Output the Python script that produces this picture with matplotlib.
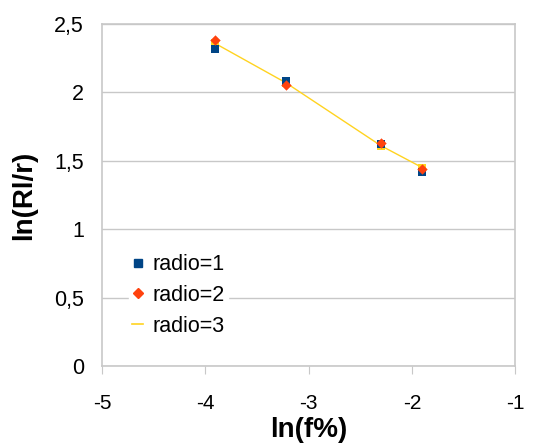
import matplotlib
matplotlib.use("Agg")
import matplotlib.pyplot as plt
import matplotlib.lines as mlines

# ln(f%) for f = 2, 4, 10, 15 %
x_vals = [-3.91, -3.22, -2.30, -1.90]
radio1 = [2.32, 2.08, 1.62, 1.42]
radio2 = [2.38, 2.05, 1.63, 1.44]
radio3 = [2.36, 2.07, 1.61, 1.45]

x_ticks = [-5, -4, -3, -2, -1]
y_ticks = [0, 0.5, 1, 1.5, 2, 2.5]
y_tick_labels = ["0", "0,5", "1", "1,5", "2", "2,5"]

blue = "#004586"
orange = "#ff420e"
yellow = "#ffd320"

plt.rcParams['font.family'] = ['Liberation Sans', 'DejaVu Sans']

fig = plt.figure(figsize=(5.51, 4.43), dpi=100)
ax = fig.add_axes([0.185, 0.174, 0.75, 0.772])

# radio=3 drawn as line with small markers underneath
ax.plot(x_vals, radio3, color=yellow, linewidth=1.0, marker='s', markersize=5.5,
        markeredgewidth=0, zorder=2)
ax.scatter(x_vals, radio1, marker='s', s=36, color=blue, zorder=3, linewidths=0)
ax.scatter(x_vals, radio2, marker='D', s=28, color=orange, zorder=4, linewidths=0)

ax.set_xlim(-5, -1)
ax.set_ylim(0, 2.5)
ax.set_xticks(x_ticks)
ax.set_xticklabels([str(t) for t in x_ticks])
ax.set_yticks(y_ticks)
ax.set_yticklabels(y_tick_labels)

ax.grid(axis='y', color='#c8c8c8', linewidth=1.0)
ax.set_axisbelow(True)
for s in ax.spines.values():
    s.set_color('#c8c8c8')
    s.set_linewidth(1.2)

ax.tick_params(axis='x', length=6, color='#c8c8c8', labelsize=15, pad=14)
ax.tick_params(axis='y', length=0, labelsize=15.5, pad=13)

ax.set_xlabel("ln(f%)", fontsize=20, fontweight='bold', labelpad=3)
ax.set_ylabel("ln(Rl/r)", fontsize=20, fontweight='bold', labelpad=12)

h1 = mlines.Line2D([], [], color=blue, marker='s', linestyle='None', markersize=6, label='radio=1')
h2 = mlines.Line2D([], [], color=orange, marker='D', linestyle='None', markersize=5.5, label='radio=2')
h3 = mlines.Line2D([], [], color=yellow, linewidth=1.2, label='radio=3')
leg = ax.legend(handles=[h1, h2, h3], loc='lower left', bbox_to_anchor=(0.04, 0.045),
                fontsize=15.5, frameon=True, handlelength=0.5, handletextpad=0.45,
                labelspacing=0.45, borderpad=0.15)
leg.get_frame().set_edgecolor('white')
leg.get_frame().set_facecolor('white')
leg.get_frame().set_alpha(1.0)
leg.get_frame().set_boxstyle('square', pad=0)

fig.savefig("out.png", dpi=100)
